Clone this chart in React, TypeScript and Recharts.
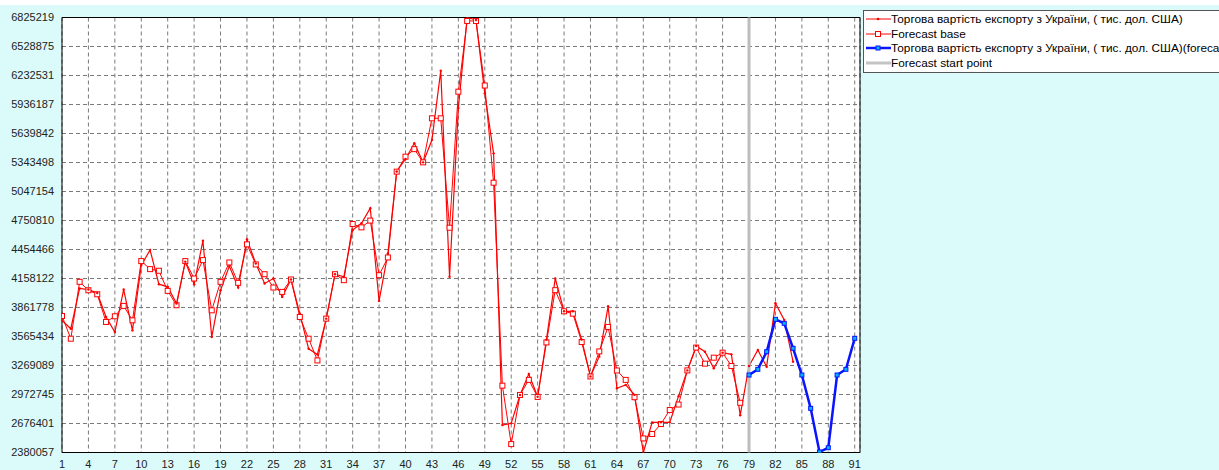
import React from 'react';
import { LineChart, Line, XAxis, YAxis, CartesianGrid, ReferenceLine, ReferenceArea } from 'recharts';

// Actual export value (indices 1..84)
const actualValues = [
  3730000, 3645000, 4056000, 4045000, 4010000, 3765000, 3611000, 4045000, 3628000, 4295000,
  4449000, 4100000, 4073000, 3902000, 4329000, 4100000, 4544000, 3560000, 4038000, 4285000,
  4066000, 4558000, 4312000, 4107000, 4158000, 3970000, 4148000, 3799000, 3440000, 3382000,
  3748000, 4202000, 4175000, 4654000, 4722000, 4876000, 3929000, 4414000, 5252000, 5380000,
  5540000, 5345000, 5573000, 6281000, 4176000, 5900000, 6825219, 6800000, 6050000, 5437000,
  2660000, 2678000, 2967000, 3182000, 2950000, 3533000, 4158000, 3823000, 3823000, 3533000,
  3157000, 3362000, 3874000, 3037000, 3071000, 2969000, 2380057, 2688000, 2688000, 2688000,
  2956000, 3219000, 3469000, 3410000, 3240000, 3400000, 3383000, 2761000, 3264000, 3427000,
  3257000, 3905000, 3734000, 3308000,
];

// Forecast base (indices 1..78)
const baseValues = [
  3775000, 3543000, 4124000, 4038000, 3997000, 3714000, 3772000, 3878000, 3731000, 4336000,
  4254000, 4237000, 4032000, 3885000, 4336000, 4158000, 4346000, 3833000, 4124000, 4322000,
  4114000, 4507000, 4302000, 4202000, 4066000, 4021000, 4148000, 3765000, 3543000, 3321000,
  3748000, 4202000, 4141000, 4715000, 4681000, 4750000, 4192000, 4373000, 5250000, 5403000,
  5480000, 5345000, 5795000, 5795000, 4677000, 6067000, 6790000, 6790000, 6130000, 5137000,
  3063000, 2466000, 2968000, 3122000, 2948000, 3505000, 4039000, 3823000, 3799000, 3509000,
  3157000, 3413000, 3663000, 3218000, 3122000, 2945000, 2524000, 2569000, 2671000, 2814000,
  2870000, 3219000, 3452000, 3288000, 3349000, 3400000, 3264000, 2888000,
];

// Forecast (indices 79..91)
const forecastStart = 79;
const forecastValues = [
  3172000, 3230000, 3410000, 3741000, 3700000, 3445000, 3172000, 2831000, 2385000, 2429000,
  3172000, 3230000, 3547000,
];

const xTicks = [1, 4, 7, 10, 13, 16, 19, 22, 25, 28, 31, 34, 37, 40, 43, 46, 49, 52, 55, 58, 61, 64, 67, 70, 73, 76, 79, 82, 85, 88, 91];
const yTicks = [6825219, 6528875, 6232531, 5936187, 5639842, 5343498, 5047154, 4750810, 4454466, 4158122, 3861778, 3565434, 3269089, 2972745, 2676401, 2380057];

const seriesNames = [
  'Торгова вартість експорту з України, ( тис. дол. США)',
  'Forecast base',
  'Торгова вартість експорту з України, ( тис. дол. США)(forecast)',
  'Forecast start point',
];

const data = Array.from({ length: 91 }, (_, k) => {
  const i = k + 1;
  return {
    idx: i,
    actual: i <= actualValues.length ? actualValues[i - 1] : null,
    base: i <= baseValues.length ? baseValues[i - 1] : null,
    fcst: i >= forecastStart && i - forecastStart < forecastValues.length ? forecastValues[i - forecastStart] : null,
  };
});

const RED = '#ff0000';
const BLUE = '#0a14ff';
const BG = '#dbfbfb';
const FONT = '"Liberation Sans", Arial, sans-serif';

const squareDot = (fill: string, stroke: string, size: number) => (props: any) => {
  const { cx, cy, index } = props;
  if (cx == null || cy == null || props.value == null) return <g key={`e${index}`} />;
  return <rect key={`s${index}`} x={cx - size / 2} y={cy - size / 2} width={size} height={size} fill={fill} stroke={stroke} strokeWidth={1} />;
};

const smallDot = (props: any) => {
  const { cx, cy, index } = props;
  if (cx == null || cy == null || props.value == null) return <g key={`e${index}`} />;
  return <circle key={`d${index}`} cx={cx} cy={cy} r={1.2} fill={RED} />;
};

const LegendBox = () => {
  const rows = [
    { color: RED, width: 1, marker: 'dot' },
    { color: RED, width: 1, marker: 'sq' },
    { color: BLUE, width: 2.5, marker: 'bsq' },
    { color: '#c4c4c4', width: 3, marker: 'none' },
  ];
  return (
    <div
      style={{
        position: 'absolute', left: 863, top: 10, width: 400, height: 63,
        background: '#ffffff', border: '1px solid #555', boxSizing: 'border-box',
        fontFamily: FONT, fontSize: 11.8, color: '#000', overflow: 'hidden',
      }}
    >
      {rows.map((r, i) => (
        <div key={i} style={{ position: 'absolute', left: 0, top: 1 + i * 14.5, height: 14, whiteSpace: 'nowrap', display: 'flex', alignItems: 'center' }}>
          <svg width={27} height={14} style={{ display: 'block' }}>
            <line x1={2} y1={7} x2={27} y2={7} stroke={r.color} strokeWidth={r.width} />
            {r.marker === 'dot' && <circle cx={14} cy={7} r={1.3} fill={RED} />}
            {r.marker === 'sq' && <rect x={11.5} y={4.5} width={5} height={5} fill="#fff" stroke={RED} />}
            {r.marker === 'bsq' && <rect x={12} y={5} width={4} height={4} fill="#00b4ff" stroke={BLUE} />}
          </svg>
          <span>{seriesNames[i]}</span>
        </div>
      ))}
    </div>
  );
};

export default function App() {
  return (
    <div style={{ position: 'absolute', left: 0, top: 0, width: 1219, height: 470, overflow: 'hidden', background: '#fff' }}>
      <div style={{ position: 'absolute', left: 0, top: 5, width: 1219, height: 465, background: BG }} />
      <div style={{ position: 'absolute', left: 0, top: 0 }}>
        <LineChart
          width={1219}
          height={470}
          data={data}
          margin={{ top: 17.5, right: 359, bottom: 0, left: 0 }}
        >
          <CartesianGrid stroke="#7a7a7a" strokeDasharray="4 3" fill="#ffffff" fillOpacity={1} />
          <XAxis
            dataKey="idx"
            type="number"
            domain={[1, 91.6]}
            ticks={xTicks}
            allowDataOverflow
            height={17.5}
            tickLine={false}
            axisLine={false}
            tickSize={0}
            tickMargin={8}
            interval={0}
            tick={{ fontSize: 11, fill: '#222', fontFamily: FONT }}
          />
          <YAxis
            type="number"
            domain={[2380057, 6825219]}
            ticks={yTicks}
            allowDataOverflow
            width={62}
            tickLine={false}
            axisLine={false}
            tickSize={0}
            tickMargin={8}
            interval={0}
            tick={{ fontSize: 11, fill: '#222', fontFamily: FONT }}
          />
          <Line
            dataKey="base"
            stroke={RED}
            strokeWidth={1}
            dot={squareDot('#ffffff', RED, 5)}
            activeDot={false}
            isAnimationActive={false}
            connectNulls={false}
          />
          <Line
            dataKey="actual"
            stroke={RED}
            strokeWidth={1.2}
            dot={smallDot}
            activeDot={false}
            isAnimationActive={false}
            connectNulls={false}
          />
          <ReferenceLine x={forecastStart} stroke="#bdbdbd" strokeWidth={3} />
          <Line
            dataKey="fcst"
            stroke={BLUE}
            strokeWidth={2.5}
            dot={squareDot('#00b4ff', BLUE, 4)}
            activeDot={false}
            isAnimationActive={false}
            connectNulls={false}
          />
          <ReferenceArea x1={1} x2={91.6} y1={2380057} y2={6825219} fill="none" stroke="#000" strokeWidth={1} ifOverflow="visible" />
        </LineChart>
      </div>
      <LegendBox />
    </div>
  );
}
